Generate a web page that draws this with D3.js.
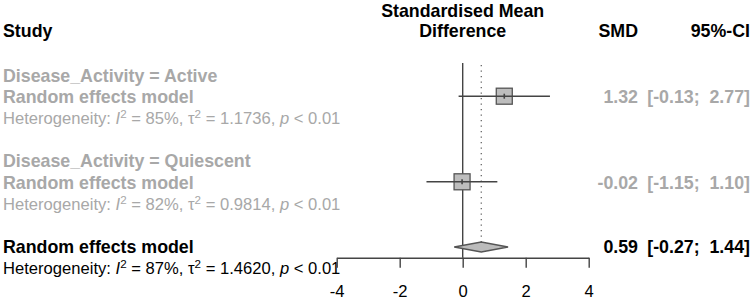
<!DOCTYPE html>
<html><head><meta charset="utf-8">
<script src="https://cdn.jsdelivr.net/npm/d3@7"></script>
<style>
html,body{margin:0;padding:0;background:#fff;}
text{font-family:"Liberation Sans",Arial,sans-serif;white-space:pre;}
</style></head>
<body><svg id="c" width="754" height="301"></svg>
<script>
// Data
const groups = ["Disease_Activity = Active", "Disease_Activity = Quiescent"];
const smd = [1.32, -0.02];
const lower = [-0.13, -1.15];
const upper = [2.77, 1.10];
const het = [
  {I2: "85%", tau2: "1.1736", p: "0.01"},
  {I2: "82%", tau2: "0.9814", p: "0.01"}
];
const overall = {smd: 0.59, lower: -0.27, upper: 1.44, I2: "87%", tau2: "1.4620", p: "0.01"};
const ticks = [-4, -2, 0, 2, 4];

const svg = d3.select("#c");
const gray = "#a8a8a8";
const lineCol = "#444";
const fsB = 17.8, fsN = 16.6;

const x = d3.scaleLinear().domain([-4, 4]).range([336.7, 588.7]);
// row baselines
const row = d3.scaleLinear().domain([0, 9]).range([81.5, 274.1]);

// Headers
svg.append("text").attr("x", 3).attr("y", 37).attr("font-weight", "bold").attr("font-size", fsB).text("Study");
svg.append("text").attr("x", x(0)).attr("y", 17).attr("text-anchor", "middle").attr("font-weight", "bold").attr("font-size", fsB).text("Standardised Mean");
svg.append("text").attr("x", x(0)).attr("y", 37).attr("text-anchor", "middle").attr("font-weight", "bold").attr("font-size", fsB).text("Difference");
svg.append("text").attr("x", 638).attr("y", 37).attr("text-anchor", "end").attr("font-weight", "bold").attr("font-size", fsB).text("SMD");
svg.append("text").attr("x", 750).attr("y", 37).attr("text-anchor", "end").attr("font-weight", "bold").attr("font-size", fsB).text("95%-CI");

function hetText(y, h, col) {
  const t = svg.append("text").attr("x", 3).attr("y", y).attr("font-size", fsN).attr("fill", col);
  t.append("tspan").text("Heterogeneity: ");
  t.append("tspan").attr("font-style", "italic").text("I");
  t.append("tspan").attr("font-size", fsN * 0.7).attr("dy", -6).text("2");
  t.append("tspan").attr("dy", 6).text(" = " + h.I2 + ", \u03C4");
  t.append("tspan").attr("font-size", fsN * 0.7).attr("dy", -6).text("2");
  t.append("tspan").attr("dy", 6).text(" = " + h.tau2 + ", ");
  t.append("tspan").attr("font-style", "italic").text("p");
  t.append("tspan").text(" < " + h.p);
}
function fmt(v) { return v.toFixed(2); }
function ciText(l, u) {
  const us = fmt(u);
  return "[" + fmt(l) + "; " + (us.length < 5 ? " " : "") + us + "]";
}

// Reference lines
svg.append("line").attr("x1", x(0)).attr("x2", x(0)).attr("y1", 63).attr("y2", 257.7)
  .attr("stroke", lineCol).attr("stroke-width", 1.4);
svg.append("line").attr("x1", x(overall.smd)).attr("x2", x(overall.smd)).attr("y1", 65).attr("y2", 242)
  .attr("stroke", "#666").attr("stroke-width", 1.3).attr("stroke-dasharray", "1.3,4.2");

groups.forEach((g, i) => {
  const base = i * 4;
  svg.append("text").attr("x", 3).attr("y", row(base)).attr("font-weight", "bold").attr("font-size", fsB).attr("fill", gray).text(g);
  svg.append("text").attr("x", 3).attr("y", row(base + 1)).attr("font-weight", "bold").attr("font-size", fsB).attr("fill", gray).text("Random effects model");
  hetText(row(base + 2), het[i], gray);
  const cy = row(base + 1) - 6.7;
  svg.append("rect").attr("x", x(smd[i]) - 8).attr("y", cy - 8).attr("width", 16).attr("height", 16)
    .attr("fill", "#bdbdbd").attr("stroke", "#555").attr("stroke-width", 1.3);
  svg.append("line").attr("x1", x(lower[i])).attr("x2", x(upper[i])).attr("y1", cy).attr("y2", cy)
    .attr("stroke", lineCol).attr("stroke-width", 1.4);
  svg.append("line").attr("x1", x(smd[i])).attr("x2", x(smd[i])).attr("y1", cy - 2.5).attr("y2", cy + 2.5)
    .attr("stroke", "#444").attr("stroke-width", 1.6);
  svg.append("text").attr("x", 638).attr("y", row(base + 1)).attr("text-anchor", "end").attr("font-weight", "bold").attr("font-size", fsB).attr("fill", gray).text(fmt(smd[i]));
  svg.append("text").attr("x", 750).attr("y", row(base + 1)).attr("text-anchor", "end").attr("font-weight", "bold").attr("font-size", fsB).attr("fill", gray).text(ciText(lower[i], upper[i]));
});

// Overall
svg.append("text").attr("x", 3).attr("y", row(8)).attr("font-weight", "bold").attr("font-size", fsB).text("Random effects model");
hetText(row(9), overall, "#000");
const oy = row(8) - 5.7;
svg.append("polygon")
  .attr("points", [[x(overall.lower), oy], [x(overall.smd), oy - 5], [x(overall.upper), oy], [x(overall.smd), oy + 5]].map(p => p.join(",")).join(" "))
  .attr("fill", "#bbbbbb").attr("stroke", "#555").attr("stroke-width", 1.3);
svg.append("text").attr("x", 638).attr("y", row(8)).attr("text-anchor", "end").attr("font-weight", "bold").attr("font-size", fsB).text(fmt(overall.smd));
svg.append("text").attr("x", 750).attr("y", row(8)).attr("text-anchor", "end").attr("font-weight", "bold").attr("font-size", fsB).text(ciText(overall.lower, overall.upper));

// Axis
const axis = d3.axisBottom(x).tickValues(ticks).tickSize(10).tickPadding(18).tickSizeOuter(0).tickFormat(d3.format("d"));
const ag = svg.append("g").attr("transform", "translate(0,257.7)").call(axis);
ag.select(".domain").attr("stroke", lineCol).attr("stroke-width", 1.4);
ag.selectAll(".tick line").attr("stroke", lineCol).attr("stroke-width", 1.4);
ag.selectAll(".tick text").attr("font-size", fsN).attr("fill", "#000").attr("font-family", "Liberation Sans, Arial, sans-serif")
  .text(d => d < 0 ? "-" + Math.abs(d) : d);
</script></body></html>
